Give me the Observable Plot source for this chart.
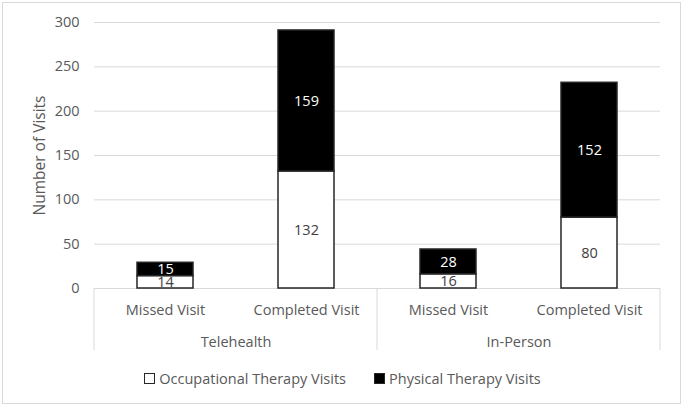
<!DOCTYPE html>
<html>
<head>
<meta charset="utf-8">
<script src="https://cdn.jsdelivr.net/npm/d3@7"></script>
<script src="https://cdn.jsdelivr.net/npm/@observablehq/plot@0.6"></script>
<style>
  html, body { margin: 0; padding: 0; background: #fff; }
  #wrap { position: relative; width: 683px; height: 406px; font-family: "Open Sans", sans-serif; color: #595959; }
  #border { position: absolute; left: 2px; top: 2px; width: 677px; height: 400px; border: 1px solid #d9d9d9; }
  #chart { position: absolute; left: 0; top: 0; }
  #legend { position: absolute; left: 1px; top: 369px; width: 683px; display: flex; justify-content: center; gap: 28px; font-size: 14.5px; }
  .item { display: flex; align-items: center; }
  .sw { width: 9px; height: 9px; border: 1.5px solid #262626; margin-right: 4px; }
</style>
</head>
<body>
<div id="wrap">
  <div id="border"></div>
  <div id="chart"></div>
  <div id="legend"></div>
</div>
<script>
const groups = ["Telehealth", "In-Person"];
const visitTypes = ["Missed Visit", "Completed Visit"];
const seriesNames = ["Occupational Therapy Visits", "Physical Therapy Visits"];
const seriesColors = ["#ffffff", "#000000"];
const labelColors = ["#404040", "#ffffff"];
const otValues = [14, 132, 16, 80];
const ptValues = [15, 159, 28, 152];
const yTicks = [0, 50, 100, 150, 200, 250, 300];

const data = [];
for (let i = 0; i < 4; i++) {
  const group = groups[Math.floor(i / 2)];
  const type = visitTypes[i % 2];
  data.push({group, type, series: seriesNames[0], value: otValues[i]});
  data.push({group, type, series: seriesNames[1], value: ptValues[i]});
}

const chart = Plot.plot({
  width: 683,
  height: 360,
  marginLeft: 94,
  marginRight: 23,
  marginTop: 22,
  marginBottom: 72,
  style: {fontFamily: "Open Sans", fontSize: "14.5px", color: "#595959", background: "transparent", overflow: "visible"},
  fx: {domain: groups, padding: 0, label: null},
  x: {domain: visitTypes, paddingInner: 0.6, paddingOuter: 0.3, label: null},
  y: {domain: [0, 300], label: null},
  color: {domain: seriesNames, range: seriesColors},
  marks: [
    Plot.gridY(yTicks, {stroke: "#d9d9d9", strokeOpacity: 1, strokeWidth: 1}),
    Plot.axisY(yTicks, {tickSize: 0, tickPadding: 15, label: null, fill: "#595959", fontSize: "14.5px"}),
    Plot.axisY({ticks: [], tickSize: 0, label: "Number of Visits", labelAnchor: "center", labelArrow: "none", labelOffset: 61, fill: "#595959", fontSize: "15.5px"}),
    Plot.axisX({tickSize: 0, tickPadding: 16, label: null, fill: "#595959"}),
    Plot.axisFx({anchor: "bottom", tickSize: 0, tickPadding: 48, label: null, fill: "#595959"}),
    Plot.barY(data, Plot.stackY({fx: "group", x: "type", y: "value", fill: "series", stroke: "#262626", strokeWidth: 1.5})),
    ...seriesNames.map((s, k) => Plot.text(data, Plot.stackY({
      fx: "group", x: "type", y: "value", z: "series",
      text: d => d.series === s ? d.value : null,
      fill: labelColors[k], fontSize: 14.5
    })))
  ]
});
document.getElementById("chart").appendChild(chart);

// category box lines below the axis, positioned from the fx and y scales
const fx = chart.scale("fx");
const y = chart.scale("y");
const svg = d3.select(chart);
const y0 = y.apply(0);
const bounds = groups.map(g => fx.apply(g)).concat([fx.apply(groups[groups.length - 1]) + fx.bandwidth]);
svg.append("g").selectAll("line").data(bounds).join("line")
  .attr("x1", d => d).attr("x2", d => d)
  .attr("y1", y0).attr("y2", y0 + 62)
  .attr("stroke", "#d9d9d9").attr("stroke-width", 1);

// legend
const legend = d3.select("#legend");
seriesNames.forEach((s, k) => {
  const it = legend.append("div").attr("class", "item");
  it.append("div").attr("class", "sw").style("background", seriesColors[k]);
  it.append("span").text(s);
});
</script>
</body>
</html>
